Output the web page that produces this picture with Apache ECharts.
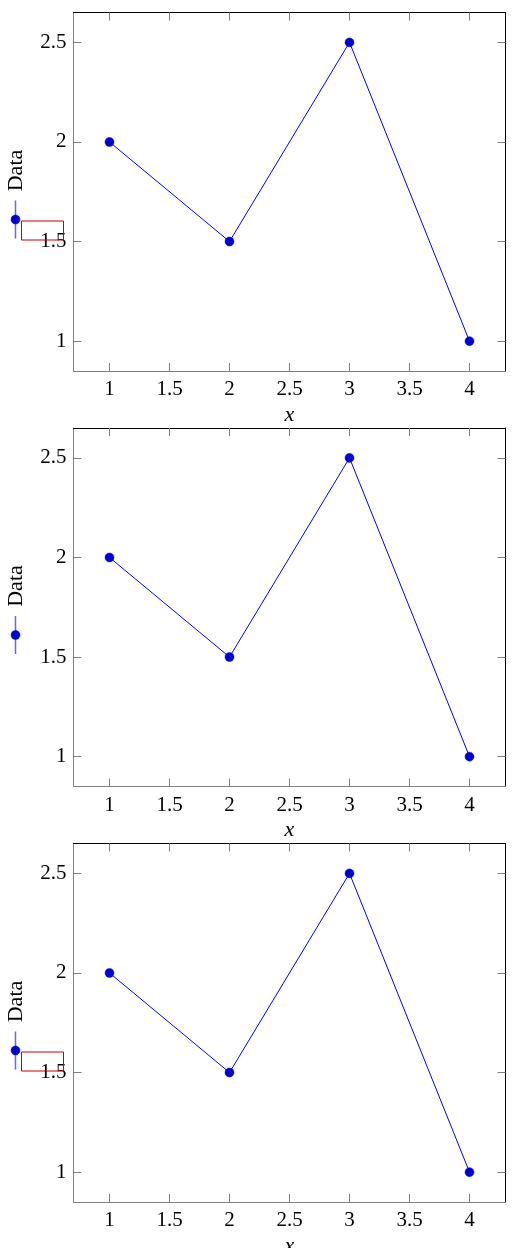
<!DOCTYPE html>
<html>
<head>
<meta charset="utf-8">
<script src="https://cdn.jsdelivr.net/npm/echarts@6/dist/echarts.min.js"></script>
<style>
html,body{margin:0;padding:0;background:#fff;}
#c{width:512px;height:1248px;}
</style>
</head>
<body>
<div id="c"></div>
<script>
const xValues = [1, 2, 3, 4];
const yValues = [2, 1.5, 2.5, 1];
const xTicks = [1, 1.5, 2, 2.5, 3, 3.5, 4];
const yTicks = [1, 1.5, 2, 2.5];
const seriesName = 'Data';
const xLabel = 'x';
const showRedBox = [true, false, true];

const FONT = 'Liberation Serif';
const grids = [], xAxes = [], yAxes = [], series = [], graphics = [];
const tops = [12.5, 428, 843.5];
const H = 358.5;
const GRAY = '#808080';

tops.forEach((top, i) => {
  grids.push({left: 73.5, right: 6.5, top: top, height: H, show: false, outerBoundsMode: 'none', containLabel: false});
  const tick = {show: true, inside: true, length: 8, lineStyle: {color: GRAY, width: 1}};
  xAxes.push({
    type: 'value', gridIndex: i, position: 'bottom', min: 0.7, max: 4.3,
    axisLine: {show: true, onZero: false, lineStyle: {color: GRAY, width: 1}},
    axisTick: Object.assign({customValues: xTicks}, tick),
    axisLabel: {customValues: xTicks, margin: 8, color: '#000', fontFamily: FONT, fontSize: 21,
      formatter: v => String(v)},
    splitLine: {show: false},
    name: xLabel, nameLocation: 'middle', nameGap: 33,
    nameTextStyle: {fontFamily: FONT, fontStyle: 'italic', fontSize: 22, color: '#000'}
  });
  xAxes.push({
    type: 'value', gridIndex: i, position: 'top', min: 0.7, max: 4.3,
    axisLine: {show: true, onZero: false, lineStyle: {color: '#000', width: 1}},
    axisTick: Object.assign({customValues: xTicks}, tick),
    axisLabel: {show: false}, splitLine: {show: false}
  });
  yAxes.push({
    type: 'value', gridIndex: i, position: 'left', min: 0.85, max: 2.65,
    axisLine: {show: true, onZero: false, lineStyle: {color: GRAY, width: 1}},
    axisTick: Object.assign({customValues: yTicks}, tick),
    axisLabel: {customValues: yTicks, margin: 7, color: '#000', fontFamily: FONT, fontSize: 21,
      formatter: v => String(v)},
    splitLine: {show: false}
  });
  yAxes.push({
    type: 'value', gridIndex: i, position: 'right', min: 0.85, max: 2.65,
    axisLine: {show: true, onZero: false, lineStyle: {color: '#000', width: 1}},
    axisTick: Object.assign({customValues: yTicks}, tick),
    axisLabel: {show: false}, splitLine: {show: false}
  });
  series.push({
    type: 'line', name: seriesName, xAxisIndex: 2 * i, yAxisIndex: 2 * i,
    data: xValues.map((x, k) => [x, yValues[k]]),
    symbol: 'circle', symbolSize: 9, showSymbol: true,
    lineStyle: {color: '#0000ff', width: 1},
    itemStyle: {color: '#0000cc', borderColor: '#0000ff', borderWidth: 0.5},
    emphasis: {disabled: true}, animation: false
  });
  // rotated legend
  graphics.push({type: 'line', shape: {x1: 15.5, y1: top + 188, x2: 15.5, y2: top + 226},
    style: {stroke: 'rgba(0,0,230,0.6)', lineWidth: 1.5}});
  graphics.push({type: 'circle', shape: {cx: 15.5, cy: top + 207, r: 4.5},
    style: {fill: '#0000cc', stroke: '#0000ff', lineWidth: 0.5}});
  graphics.push({type: 'text', x: 16, y: top + 158, rotation: Math.PI / 2,
    style: {text: seriesName, font: '22px "' + FONT + '"', fill: '#000', align: 'center', verticalAlign: 'middle'}});
  if (showRedBox[i]) {
    graphics.push({type: 'rect', shape: {x: 21.5, y: top + 208.5, width: 42, height: 19},
      style: {fill: 'none', stroke: '#cc0000', lineWidth: 1}, z: 100});
  }
});

const chart = echarts.init(document.getElementById('c'), null, {renderer: 'canvas'});
chart.setOption({
  backgroundColor: '#fff',
  animation: false,
  grid: grids, xAxis: xAxes, yAxis: yAxes, series: series,
  graphic: graphics
});
</script>
</body>
</html>
